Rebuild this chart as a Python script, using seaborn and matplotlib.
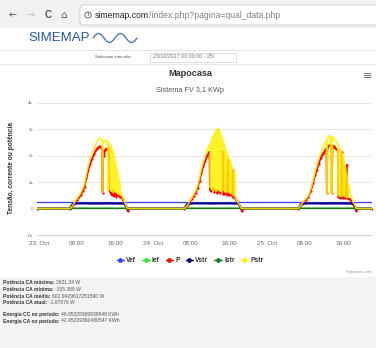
import numpy as np
import matplotlib
matplotlib.use("Agg")
import matplotlib.pyplot as plt
import seaborn as sns
from matplotlib.lines import Line2D
from matplotlib.patches import Rectangle, FancyBboxPatch, Circle

# ---------------- data ----------------
X_START, X_END = -0.4, 70.1          # hours since 23 Oct 00:00
DAY_OFFSETS = [0, 24, 48]

x_ticks = [0, 8, 16, 24, 32, 40, 48, 56, 64]
x_tick_labels = ["23. Oct", "08:00", "16:00", "24. Oct", "08:00", "16:00",
                 "25. Oct", "08:00", "16:00"]
y_ticks = [-1000, 0, 1000, 2000, 3000, 4000]
y_tick_labels = ["-1k", "0", "1k", "2k", "3k", "4k"]

series_names = ["Vef", "Ief", "P", "Vstr", "Istr", "Pstr"]
series_colors = ["#3a3aff", "#22ee22", "#ff0000", "#000080", "#1a7a1a", "#fff000"]

vef_hours = [-0.4, 6, 12, 18, 24, 30, 36, 42, 48, 54, 60, 66, 70.1]
vef_vals = [228, 229, 226, 227, 229, 228, 225, 227, 229, 228, 226, 227, 228]

ief_hours = [-0.4, 6.6, 7.2, 18.2, 18.7, 30.6, 31.2, 42.2, 42.7, 54.6, 55.2, 66.4, 66.9, 70.1]
ief_vals = [0, 0, 10, 10, 0, 0, 10, 10, 0, 0, 10, 10, 0, 0]

vstr_hours = [-0.4, 6.5, 7.1, 9, 12, 15, 18.0, 18.6, 30.6, 31.2, 33, 36, 39, 42.0, 42.6,
              54.6, 55.2, 57, 60, 63, 66.2, 66.8, 70.1]
vstr_vals = [0, 0, 180, 190, 185, 188, 182, 0, 0, 180, 192, 186, 190, 182, 0,
             0, 180, 190, 186, 188, 182, 0, 0]

istr_hours = [-0.4, 6.5, 7.0, 18.2, 18.6, 30.6, 31.0, 42.2, 42.6, 54.6, 55.0, 66.4, 66.8, 70.1]
istr_vals = [0, 0, 8, 8, 0, 0, 8, 8, 0, 0, 8, 8, 0, 0]

# P (AC power), hour-of-day per day
p_day1_hours = [6.5, 6.8, 7.2, 7.6, 8.0, 8.4, 8.8, 9.2, 9.6, 10.0, 10.4, 10.8, 11.2, 11.6, 12.0,
                12.4, 12.8, 13.1, 13.3, 13.4, 13.5, 13.7, 13.9, 14.1, 14.3, 14.5, 14.7,
                14.9, 15.1, 15.3, 15.5, 15.7, 15.9, 16.1, 16.3, 16.5, 16.7, 16.9, 17.1,
                17.3, 17.6, 17.9, 18.2, 18.5, 18.7, 18.9]
p_day1_vals = [0, 30, 120, 230, 330, 420, 520, 650, 800, 1150, 1450, 1700, 1880, 2050, 2200,
               2300, 2350, 2300, 2250, 600, 2150, 2000, 2200, 2250, 2200, 2300, 2200,
               650, 600, 520, 700, 480, 560, 600, 450, 550, 500, 480, 450,
               450, 350, 250, 130, 30, -100, 0]

p_day2_hours = [6.6, 7.0, 7.4, 7.8, 8.2, 8.6, 9.0, 9.4, 9.8, 10.2, 10.6, 11.0, 11.4, 11.7, 11.9,
                12.0, 12.3, 12.6, 12.9, 13.2, 13.5, 13.8, 14.1, 14.4, 14.7, 14.8, 14.9, 15.2,
                15.5, 15.8, 15.9, 16.1, 16.4, 16.7, 16.8, 16.9, 17.2, 17.5, 17.8, 18.1, 18.4,
                18.6, 18.7, 18.9]
p_day2_vals = [0, 60, 150, 260, 370, 480, 600, 780, 1050, 1350, 1600, 1800, 1980, 2100, 2150,
               700, 650, 760, 620, 700, 580, 650, 600, 680, 560, 2150, 550, 600,
               520, 1850, 560, 500, 540, 480, 1450, 450, 400, 320, 250, 150, 60,
               -20, -100, 0]

p_day3_hours = [6.6, 7.0, 7.4, 7.8, 8.2, 8.7, 9.2, 9.7, 10.1, 10.5, 10.9, 11.3, 11.6, 11.9, 12.2,
                12.5, 12.6, 12.7, 12.9, 13.2, 13.5, 13.6, 13.8, 14.0, 14.3, 14.6, 14.9,
                15.0, 15.3, 15.6, 15.7, 15.9, 16.2, 16.5, 16.8, 16.9, 17.1, 17.4, 17.7,
                18.0, 18.3, 18.6, 18.8, 19.0]
p_day3_vals = [0, 80, 180, 260, 330, 420, 650, 950, 1250, 1460, 1700, 1900, 2020, 2100, 2200,
               2280, 600, 2300, 2350, 2400, 2380, 600, 2350, 2380, 2300, 2250, 2200,
               450, 400, 420, 2150, 380, 450, 400, 1650, 400, 380, 350, 280,
               180, 90, 20, -100, 0]

# Pstr (DC power), hour-of-day per day
pstr_day1_hours = [6.5, 6.8, 7.2, 7.6, 8.0, 8.4, 8.8, 9.2, 9.6, 10.0, 10.4, 10.8, 11.2, 11.6, 12.0,
                   12.4, 12.8, 13.1, 13.3, 13.4, 13.5, 13.7, 13.9, 14.1, 14.3, 14.5, 14.6, 14.7,
                   14.8, 14.9, 15.0, 15.1, 15.2, 15.3, 15.4, 15.5, 15.6, 15.7, 15.8, 15.9, 16.0,
                   16.1, 16.2, 16.3, 16.4, 16.5, 16.6, 16.7, 16.8, 16.9, 17.0, 17.1, 17.2,
                   17.3, 17.6, 17.9, 18.2, 18.5, 18.8]
pstr_day1_vals = [0, 40, 140, 260, 370, 470, 600, 740, 900, 1290, 1620, 1880, 2080, 2280, 2450,
                  2580, 2680, 2620, 2600, 600, 2550, 2500, 2580, 2550, 2500, 2550, 700, 2480,
                  2450, 2420, 700, 2380, 650, 2300, 800, 2200, 600, 2100, 700, 1950, 650,
                  1800, 600, 1650, 650, 1450, 550, 1300, 600, 1100, 520, 900, 500,
                  600, 420, 300, 160, 40, 0]

pstr_day2_hours = [6.6, 7.0, 7.4, 7.8, 8.2, 8.6, 9.0, 9.4, 9.8, 10.2, 10.6, 11.0, 11.4, 11.7, 11.9,
                   12.0, 12.1, 12.2, 12.3, 12.4, 12.5, 12.6, 12.7, 12.8, 12.9, 13.0, 13.1, 13.2,
                   13.3, 13.4, 13.5, 13.6, 13.7, 13.8, 13.9, 14.0, 14.1, 14.2, 14.3, 14.4, 14.5,
                   14.6, 14.7, 14.8, 14.9, 15.0, 15.1, 15.2, 15.3, 15.4, 15.5, 15.6, 15.7, 15.8,
                   15.9, 16.0, 16.1, 16.2, 16.3, 16.4, 16.5, 16.6, 16.7, 16.8, 16.9, 17.0, 17.1,
                   17.2, 17.3, 17.5, 17.8, 18.1, 18.4, 18.7]
pstr_day2_vals = [0, 70, 170, 290, 410, 530, 660, 860, 1160, 1500, 1770, 1990, 2200, 2330, 2400,
                  2350, 800, 2500, 750, 2620, 700, 2720, 650, 2800, 900, 2860, 700, 2920,
                  650, 2980, 750, 3030, 700, 3000, 800, 2940, 650, 2860, 700, 2760, 600,
                  2650, 750, 2540, 700, 2420, 650, 2300, 600, 2200, 700, 2100, 650, 2000,
                  600, 1900, 700, 1800, 650, 1700, 550, 1600, 600, 1500, 500, 1420, 550,
                  1300, 450, 330, 260, 170, 70, 0]

pstr_day3_hours = [6.6, 7.0, 7.4, 7.8, 8.2, 8.7, 9.2, 9.7, 10.1, 10.5, 10.9, 11.3, 11.6, 11.9, 12.2,
                   12.5, 12.6, 12.7, 12.9, 13.1, 13.3, 13.5, 13.6, 13.7, 13.8, 13.9, 14.1, 14.3,
                   14.5, 14.7, 14.9, 15.0, 15.1, 15.2, 15.3, 15.4, 15.5, 15.6, 15.7, 15.8, 15.9,
                   16.0, 16.1, 16.2, 16.3, 16.4, 16.5, 16.6, 16.7, 16.8, 16.9, 17.0,
                   17.2, 17.5, 17.8, 18.1, 18.4, 18.7, 18.9]
pstr_day3_vals = [0, 90, 200, 290, 370, 470, 720, 1050, 1380, 1620, 1880, 2100, 2250, 2350, 2450,
                  2580, 550, 2650, 2720, 2750, 2740, 600, 2720, 550, 2700, 2680, 2650, 2600,
                  2550, 2500, 2450, 500, 2350, 480, 2250, 460, 2180, 500, 2150, 450, 2050,
                  500, 1900, 480, 1750, 450, 1550, 440, 1400, 420, 1250, 420,
                  900, 600, 420, 260, 140, 40, 0]

stats_labels = ["Potência CA máxima:", "Potência CA mínima:", "Potência CA média:",
                "Potência CA atual:", "Energia CC no período:", "Energia CA no período:"]
stats_values = ["2621.24 W", "-105.389 W", "602.9429617251590 W", "-1.97676 W",
                "46.85328369938848 KWh", "42.45209360480547 KWh"]


def assemble(day_hours, day_vals):
    xs, ys = [X_START], [0]
    for off, hs, vs in zip(DAY_OFFSETS, day_hours, day_vals):
        xs += [off + h for h in hs]
        ys += list(vs)
    xs.append(X_END)
    ys.append(0)
    return xs, ys


p_x, p_y = assemble([p_day1_hours, p_day2_hours, p_day3_hours],
                    [p_day1_vals, p_day2_vals, p_day3_vals])
pstr_x, pstr_y = assemble([pstr_day1_hours, pstr_day2_hours, pstr_day3_hours],
                          [pstr_day1_vals, pstr_day2_vals, pstr_day3_vals])

# ---------------- figure ----------------
sns.set_theme(style="white")
plt.rcParams["font.family"] = ["Liberation Sans", "DejaVu Sans"]

W, H = 376, 348
fig = plt.figure(figsize=(W / 100, H / 100), dpi=100)
fig.patch.set_facecolor("white")


def fx(x):
    return x / W


def fy(y):
    return 1 - y / H


# browser chrome
fig.add_artist(Rectangle((0, fy(28)), 1, 28 / H, transform=fig.transFigure,
                         facecolor="#f1f1f1", edgecolor="none", zorder=0))
fig.add_artist(FancyBboxPatch((fx(80), fy(25)), fx(300), 20 / H, transform=fig.transFigure,
                              boxstyle="round,pad=0,rounding_size=0.01",
                              facecolor="white", edgecolor="#c8c8c8", lw=0.6, zorder=1))
fig.text(fx(13), fy(15), "←", fontsize=7, color="#555555", ha="center", va="center",
         family=["DejaVu Sans"])
fig.text(fx(31), fy(15), "→", fontsize=7, color="#c0c0c0", ha="center", va="center",
         family=["DejaVu Sans"])
fig.text(fx(48), fy(15), "C", fontsize=7, color="#555555", ha="center", va="center",
         fontweight="bold")
fig.text(fx(64), fy(15), "⌂", fontsize=7.5, color="#555555", ha="center", va="center",
         family=["DejaVu Sans"])
fig.add_artist(Circle((fx(88), fy(15)), 3.2 / W, transform=fig.transFigure,
                      facecolor="none", edgecolor="#555555", lw=0.6, zorder=2))
fig.text(fx(88), fy(15), "i", fontsize=3.8, color="#555555", ha="center", va="center",
         fontweight="bold")
t_url1 = fig.text(fx(95), fy(15), "simemap.com", fontsize=6.2, color="#222222",
                  ha="left", va="center")

# page header
fig.text(fx(28), fy(38), "SIMEMAP", fontsize=9.5, color="#2b55a6", ha="left", va="center")
wx = np.linspace(93, 137, 60)
fig.add_artist(Line2D(fx(wx), fy(38 - 4.5 * np.sin((wx - 93) / 44 * 4 * np.pi)),
                      transform=fig.transFigure, color="#3f6cc0", lw=0.9))
fig.add_artist(Line2D([0, 1], [fy(50), fy(50)], transform=fig.transFigure,
                      color="#e4e4e4", lw=0.8))
fig.text(fx(95), fy(57), "Selecione intervalo:", fontsize=3.1, color="#555555",
         ha="left", va="center")
fig.add_artist(Rectangle((fx(150), fy(62)), fx(86), 9 / H, transform=fig.transFigure,
                         facecolor="white", edgecolor="#cfcfcf", lw=0.5))
fig.text(fx(153), fy(57), "23/10/2017 00:00:00 - 25/", fontsize=3.8, color="#777777",
         ha="left", va="center")
fig.add_artist(Line2D([0, 1], [fy(64), fy(64)], transform=fig.transFigure,
                      color="#e8e8e8", lw=0.8))

# stats area
fig.add_artist(Rectangle((0, 0), 1, fy(277), transform=fig.transFigure,
                         facecolor="#f3f3f3", edgecolor="none", zorder=0))

# chart titles
fig.text(fx(190), fy(74), "Mapocasa", fontsize=6.6, fontweight="bold", color="#333333",
         ha="center", va="center")
fig.text(fx(190), fy(90), "Sistema FV 3,1 KWp", fontsize=5.3, color="#555555",
         ha="center", va="center")
fig.text(fx(368), fy(76), "≡", fontsize=8, color="#666666", ha="center", va="center",
         family=["DejaVu Sans"])
fig.text(fx(12), fy(168), "Tensão, corrente ou potência", fontsize=4.8, fontweight="bold",
         color="#333333", rotation=90, ha="center", va="center")
fig.text(fx(372), fy(272), "Highcharts.com", fontsize=2.8, color="#999999",
         ha="right", va="center")

# axes
ax = fig.add_axes([fx(37), fy(235), (372 - 37) / W, (235 - 102.7) / H])
ax.set_facecolor("white")

sns.lineplot(x=vef_hours, y=vef_vals, ax=ax, color=series_colors[0], lw=0.9,
             sort=False, estimator=None, zorder=2)
sns.lineplot(x=ief_hours, y=ief_vals, ax=ax, color=series_colors[1], lw=1.0,
             sort=False, estimator=None, zorder=2)
sns.lineplot(x=p_x, y=p_y, ax=ax, color=series_colors[2], lw=1.3,
             marker="o", markersize=1.6, markeredgewidth=0,
             sort=False, estimator=None, zorder=3)
sns.lineplot(x=vstr_hours, y=vstr_vals, ax=ax, color=series_colors[3], lw=1.4,
             sort=False, estimator=None, zorder=4)
sns.lineplot(x=istr_hours, y=istr_vals, ax=ax, color=series_colors[4], lw=1.0,
             sort=False, estimator=None, zorder=4)
sns.lineplot(x=pstr_x, y=pstr_y, ax=ax, color=series_colors[5], lw=1.2,
             sort=False, estimator=None, zorder=5, alpha=0.85)

ax.set_xlim(X_START, X_END)
ax.set_ylim(-1000, 4000)
ax.set_xticks(x_ticks)
ax.set_xticklabels(x_tick_labels, fontsize=4.5, color="#666666")
ax.set_yticks(y_ticks)
ax.set_yticklabels(y_tick_labels, fontsize=3.2, color="#666666")
ax.tick_params(axis="x", length=0, pad=4.5)
ax.tick_params(axis="y", length=0, pad=3)
ax.grid(axis="y", color="#e6e6e6", lw=0.7)
ax.grid(axis="x", visible=False)
for s in ["top", "right", "left"]:
    ax.spines[s].set_visible(False)
ax.spines["bottom"].set_color("#ccd6eb")
ax.spines["bottom"].set_linewidth(0.8)
ax.set_xlabel("")
ax.set_ylabel("")

# legend
handles = [Line2D([0], [0], color=c, lw=1.0, marker="o", markersize=2.4)
           for c in series_colors]
fig.legend(handles, series_names, loc="center", bbox_to_anchor=(fx(190), fy(261)),
           ncol=6, frameon=False, handlelength=1.1, handletextpad=0.35,
           columnspacing=0.9, prop={"size": 4.8, "weight": "bold"},
           labelcolor="#333333")

# texts that need measured placement
fig.canvas.draw()
rend = fig.canvas.get_renderer()
inv = fig.transFigure.inverted()
bb = t_url1.get_window_extent(rend)
fig.text(inv.transform((bb.x1, 0))[0], fy(15), "/index.php?pagina=qual_data.php",
         fontsize=6.2, color="#808080", ha="left", va="center")

stat_rows = [282.7, 289.3, 296.0, 302.3, 314.3, 321.0]
for lab, val, yy in zip(stats_labels, stats_values, stat_rows):
    t = fig.text(fx(3), fy(yy), lab, fontsize=3.6, fontweight="bold", color="#333333",
                 ha="left", va="center")
    b = t.get_window_extent(rend)
    fig.text(inv.transform((b.x1 + 1.5, 0))[0], fy(yy), val, fontsize=3.6,
             color="#555555", ha="left", va="center")

fig.savefig("out.png", dpi=100, facecolor="white")
